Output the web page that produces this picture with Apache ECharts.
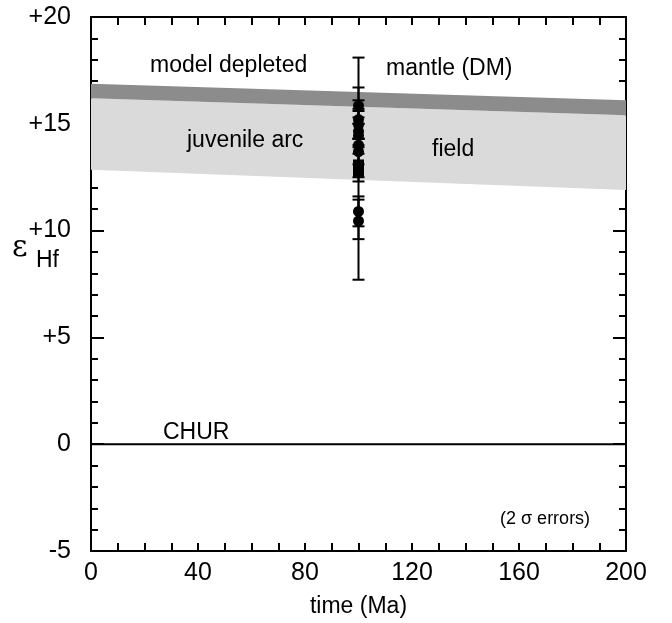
<!DOCTYPE html>
<html>
<head>
<meta charset="utf-8">
<script src="https://cdn.jsdelivr.net/npm/echarts@6/dist/echarts.min.js"></script>
<style>
  html, body { margin: 0; padding: 0; background: #fff; }
  #chart { width: 672px; height: 623px; }
</style>
</head>
<body>
<div id="chart"></div>
<script>
// band edges at t = 0 and t = 200 Ma
const bandAges = [0, 200]
const fieldLower = [12.85, 11.9]
const dmLower = [16.2, 15.4]
const dmUpper = [16.87, 16.1]

// zircon analyses, all at ~100 Ma
const sampleAge = 100
const circleValues = [15.85, 15.2, 14.95, 14.65, 14.45, 14.0, 13.7, 10.9, 10.45]
const squareValues = [13.05, 12.8]
const errLow = [15.0, 14.3, 14.3, 14.0, 13.9, 12.3, 13.1, 12.5, 7.7, 10.2, 9.6]
const errHigh = [16.7, 16.1, 15.6, 15.3, 15.0, 15.7, 14.3, 13.6, 18.1, 11.6, 11.45]

const xTicks = { min: 0, max: 200, interval: 40 }
const yTicks = { min: -5, max: 20, interval: 5 }

const chart = echarts.init(document.getElementById('chart'))
const font = 'Liberation Sans, Arial, sans-serif'

const axisLine = { onZero: false, lineStyle: { color: '#000', width: 2 } }
const tickStyle = { color: '#000', width: 2 }

function xAxisOf(position, showLabel) {
  return {
    type: 'value', position, min: xTicks.min, max: xTicks.max, interval: xTicks.interval,
    axisLine, splitLine: { show: false },
    axisTick: { inside: true, length: 8, lineStyle: tickStyle },
    minorTick: { show: true, splitNumber: 4, length: 8, lineStyle: tickStyle },
    axisLabel: { show: showLabel, color: '#000', fontSize: 25, fontFamily: font, margin: 10 }
  }
}
function yAxisOf(position, showLabel) {
  return {
    type: 'value', position, min: yTicks.min, max: yTicks.max, interval: yTicks.interval,
    axisLine, splitLine: { show: false },
    axisTick: { inside: true, length: 13, lineStyle: tickStyle },
    minorTick: { show: true, splitNumber: 5, length: 7, lineStyle: tickStyle },
    axisLabel: {
      show: showLabel, color: '#000', fontSize: 25, fontFamily: font, margin: 20,
      formatter: v => (v > 0 ? '+' + v : String(v))
    }
  }
}

// polygon between two edges, drawn once through the axis scales
function bandSeries(lower, upper, color) {
  return {
    type: 'custom', silent: true, z: 1,
    data: bandAges.map((t, i) => [t, lower[i], upper[i]]),
    renderItem(params, api) {
      if (params.dataIndex !== 0) return
      const pts = []
      bandAges.forEach((t, i) => pts.push(api.coord([t, upper[i]])))
      for (let i = bandAges.length - 1; i >= 0; i--) pts.push(api.coord([bandAges[i], lower[i]]))
      return { type: 'polygon', shape: { points: pts }, style: { fill: color } }
    }
  }
}

const xBottom = xAxisOf('bottom', true)
xBottom.name = 'time (Ma)'
xBottom.nameLocation = 'middle'
xBottom.nameGap = 44
xBottom.nameTextStyle = { color: '#000', fontSize: 23, fontFamily: font }

function note(text, left, top, size) {
  return { type: 'text', left, top, z: 100, style: { text, fontSize: size || 23, fontFamily: font, fill: '#000' } }
}

const option = {
  animation: false,
  backgroundColor: '#fff',
  grid: { left: 91, right: 46, top: 17, bottom: 71 },
  xAxis: [xBottom, xAxisOf('top', false)],
  yAxis: [yAxisOf('left', true), yAxisOf('right', false)],
  series: [
    bandSeries(fieldLower, dmLower, '#dadada'),
    bandSeries(dmLower, dmUpper, '#8c8c8c'),
    {
      // CHUR
      type: 'line', symbol: 'none', silent: true,
      data: [[xTicks.min, 0], [xTicks.max, 0]],
      lineStyle: { color: '#000', width: 2 }
    },
    {
      type: 'custom', z: 5,
      data: errLow.map((lo, i) => [sampleAge, lo, errHigh[i]]),
      renderItem(params, api) {
        const top = api.coord([api.value(0), api.value(2)])
        const bot = api.coord([api.value(0), api.value(1)])
        const style = { stroke: '#000', lineWidth: 2 }
        const w = 6
        return {
          type: 'group',
          children: [
            { type: 'line', shape: { x1: top[0], y1: top[1], x2: bot[0], y2: bot[1] }, style },
            { type: 'line', shape: { x1: top[0] - w, y1: top[1], x2: top[0] + w, y2: top[1] }, style },
            { type: 'line', shape: { x1: bot[0] - w, y1: bot[1], x2: bot[0] + w, y2: bot[1] }, style }
          ]
        }
      }
    },
    {
      type: 'scatter', symbol: 'circle', symbolSize: 11, z: 6,
      data: circleValues.map(v => [sampleAge, v]),
      itemStyle: { color: '#000', opacity: 1 }
    },
    {
      type: 'scatter', symbol: 'rect', symbolSize: [11, 12], z: 6,
      data: squareValues.map(v => [sampleAge, v]),
      itemStyle: { color: '#000', opacity: 1 }
    }
  ],
  graphic: [
    note('model depleted', 150, 54),
    note('mantle (DM)', 386, 57),
    note('juvenile arc', 187, 129),
    note('field', 432, 138),
    note('CHUR', 163, 421),
    note('(2 σ errors)', 500, 510, 18),
    { type: 'text', left: 12, top: 233, z: 100, style: { text: 'ε', fontSize: 30, fontFamily: 'DejaVu Serif, serif', fill: '#000' } },
    note('Hf', 36, 249, 23)
  ]
}

chart.setOption(option)
</script>
</body>
</html>
